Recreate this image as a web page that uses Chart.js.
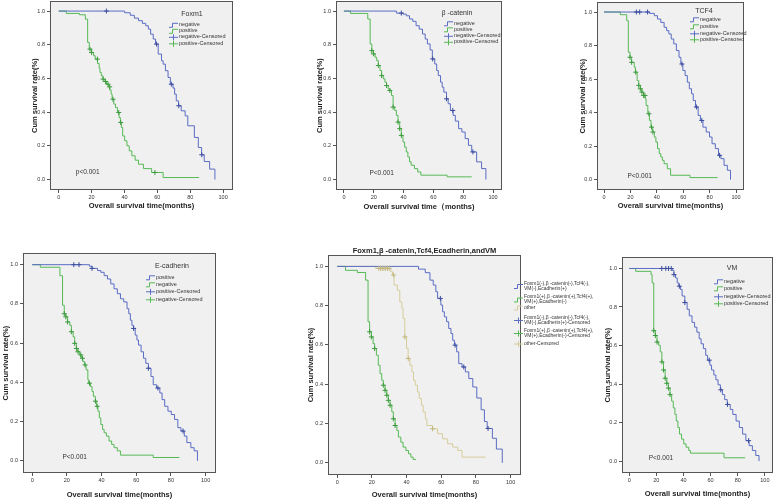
<!DOCTYPE html>
<html>
<head>
<meta charset="utf-8">
<script src="https://cdn.jsdelivr.net/npm/chart.js@4.4.1/dist/chart.umd.min.js"></script>
<style>
  html, body { margin:0; padding:0; background:#fff; }
  body { width:778px; height:499px; overflow:hidden; position:relative; }
  canvas { position:absolute; }
</style>
</head>
<body>
<script>
const FONT = '"Liberation Sans", Arial, sans-serif';
const BLUE = '#5a6cc4', BLUE_MARK = '#3c4c9e';
const GREEN = '#56b956', GREEN_MARK = '#3d9a3d';
const TAN = '#d6cc9a', TAN_MARK = '#c2b77f';
const PLOT_BG = '#f0f0f0';

const X_TICKS = [0, 20, 40, 60, 80, 100];
const Y_TICKS = [0, 0.2, 0.4, 0.6, 0.8, 1.0];
const Y_TITLE = 'Cum survival rate(%)';
const X_TITLE = 'Overall survival time(months)';
const X_TITLE_WIDE = 'Overall survival time（months)';

// Foxm1
const foxNegT = [0,40.1,43.5,46,48.5,50.9,52.9,54.5,55.9,57.5,58.9,60.5,62.5,63.5,64.9,66.5,67.9,69.5,70.5,71.5,72.9,74.5,76.9,78.5,82.5,84.9,86.9,88.5,91.8,95];
const foxNegS = [1,0.99,0.975,0.958,0.943,0.927,0.913,0.893,0.863,0.834,0.804,0.745,0.705,0.685,0.646,0.606,0.566,0.543,0.507,0.467,0.438,0.408,0.378,0.319,0.25,0.19,0.147,0.107,0.062,0];
const foxNegCens = [29,59.5,68.5,73,87];
const foxPosT = [0,4.6,12.6,16.2,17.6,18.6,20,21.2,22.2,23.6,24.6,25.1,25.9,26.9,28.1,29.1,30.5,31.1,31.9,32.5,33.5,34.5,35.7,36.7,37.5,38.1,38.9,40.1,41.5,42.9,44.5,46.5,48.5,51.5,56.5,63.5,85.4];
const foxPosS = [1,0.986,0.978,0.952,0.814,0.774,0.754,0.735,0.715,0.689,0.661,0.636,0.616,0.596,0.582,0.566,0.55,0.531,0.507,0.477,0.448,0.428,0.398,0.368,0.339,0.309,0.259,0.23,0.2,0.17,0.141,0.115,0.091,0.065,0.042,0.012,0.012];
const foxPosCens = [19,20,23.5,27,28.5,30,31,33,36.5,37.7,58.5];

// beta-catenin
const catNegT = [0,35.2,39.6,41.8,44,46.2,48.4,50.5,52.7,54.5,56,57.8,59.3,60.9,62.2,63.3,64.8,65.9,67,68.8,69.9,71.4,73.2,74.7,76.9,79.1,81.3,83.5,85.7,89,92.3,95.2];
const catNegS = [1,0.988,0.982,0.972,0.953,0.939,0.913,0.893,0.864,0.834,0.805,0.769,0.716,0.686,0.647,0.617,0.578,0.548,0.519,0.479,0.45,0.41,0.381,0.347,0.302,0.282,0.243,0.203,0.164,0.105,0.065,0];
const catNegCens = [38.5,59.5,68.8,73,86.5];
const catPosT = [0,4.4,16,17.6,18.7,19.8,20.9,22,23.1,24.2,25.3,26.4,27.5,28.6,29.7,30.8,31.9,33,34.1,35.2,36.3,37.4,38.5,39.6,40.7,41.8,42.9,44,45.1,47.3,49.5,51.6,69.2,85.7];
const catPosS = [1,0.986,0.953,0.805,0.765,0.746,0.726,0.706,0.677,0.647,0.617,0.598,0.578,0.558,0.538,0.529,0.499,0.43,0.41,0.381,0.341,0.302,0.262,0.223,0.193,0.164,0.134,0.105,0.085,0.065,0.045,0.026,0.016,0.016];
const catPosCens = [18.7,19.8,23.1,25.3,28.6,30.8,33,36.3,37.4,38.5];

// TCF4
const tcfNegT = [0,34.4,38.1,40.5,43,45.5,47.4,49.1,50.9,52.8,54.8,56.8,58.2,59.7,61.4,63.1,64.6,66.3,67.6,69.3,71.3,73,74.9,77.4,79.9,81.8,84.3,86.7,88.5,90.9,93.4,95.8];
const tcfNegS = [1,0.992,0.978,0.958,0.938,0.909,0.889,0.869,0.839,0.81,0.77,0.73,0.69,0.651,0.621,0.581,0.542,0.512,0.472,0.433,0.383,0.353,0.313,0.284,0.254,0.214,0.185,0.145,0.125,0.085,0.056,0];
const tcfNegCens = [24.5,27,33,59,70,74,87.5];
const tcfPosT = [0,12.3,17.2,18.4,19.7,20.9,22.9,23.8,25.1,26.3,27.5,28.7,30,31.2,31.9,33.2,34.4,35.6,36.9,38.1,39.3,40.5,41.8,43,44.2,45.5,47.9,50.4,65.1,86];
const tcfPosS = [1,0.984,0.948,0.76,0.73,0.7,0.671,0.641,0.591,0.562,0.542,0.522,0.502,0.482,0.442,0.393,0.353,0.313,0.284,0.254,0.224,0.185,0.155,0.135,0.115,0.095,0.065,0.026,0.012,0.012];
const tcfPosCens = [19.7,20.9,24,26.3,27.5,28.7,30,31,34,36,37];

// E-cadherin
const ecaPosT = [0,33,34.5,37.7,39.6,41.5,43.4,45.3,47.2,49.1,50.9,52.8,54.7,55.7,56.6,57.5,58.5,59.4,60.4,61.3,62.8,64.2,65.5,67,68.5,69.8,71.7,73.6,74.9,76.4,78.3,80.2,82.1,84,85.8,87.7,89.2,91.5,93.4,95.3];
const ecaPosS = [1,0.992,0.981,0.97,0.961,0.944,0.927,0.902,0.877,0.852,0.826,0.81,0.776,0.75,0.717,0.691,0.675,0.641,0.616,0.59,0.556,0.523,0.497,0.472,0.43,0.388,0.371,0.346,0.312,0.278,0.253,0.236,0.211,0.169,0.152,0.126,0.093,0.067,0.051,0];
const ecaPosCens = [24,27,34.5,58.5,67,72.5,87];
const ecaNegT = [0,4.7,16,17.5,18.5,19.4,20.4,21.7,22.6,23.6,24.5,25.5,26.4,27.4,28.3,29.2,30.2,31.1,32.1,32.6,33.6,34.5,35.3,36.4,37.2,37.9,38.7,39.6,40.6,41.5,42.8,44.3,45.8,47.2,49.1,50.9,69.8,84.9];
const ecaNegS = [1,0.987,0.944,0.793,0.75,0.734,0.708,0.691,0.658,0.632,0.599,0.573,0.556,0.54,0.523,0.506,0.489,0.464,0.413,0.396,0.379,0.354,0.329,0.304,0.278,0.253,0.219,0.185,0.16,0.143,0.126,0.101,0.084,0.067,0.051,0.029,0.017,0.017];
const ecaNegCens = [18.5,19.4,20.4,22.6,24.5,25.5,26.4,28,29,30.5,33,36.5,37.5];

// combined groups
const allNegT = [0,46.9,50.8,53.5,55.4,56.9,57.9,59.8,60.8,61.8,63.1,64.3,65.6,66.6,67.6,68.9,70.1,72,73.9,75.9,78.2,80.5,83,84.9,86.5,89.5,91.8,95.2];
const allNegS = [1,0.986,0.968,0.93,0.905,0.871,0.837,0.803,0.769,0.743,0.718,0.684,0.658,0.624,0.599,0.565,0.505,0.488,0.463,0.429,0.386,0.33,0.27,0.21,0.175,0.125,0.07,0];
const allNegCens = [59.5,68,73,87];
const allPosT = [0,4.8,11.6,16.4,17.8,18.7,19.7,20.7,21.6,22.6,23.7,24.7,25.7,26.6,27.6,28.6,29.5,30.5,31.5,32.4,33.4,34.4,35.3,36.7,38,39.6,41.1,42.5,43.8,45.4];
const allPosS = [1,0.98,0.969,0.93,0.718,0.667,0.641,0.607,0.582,0.548,0.497,0.454,0.42,0.395,0.369,0.344,0.318,0.293,0.259,0.224,0.19,0.165,0.131,0.105,0.08,0.063,0.046,0.029,0.017,0.017];
const allPosCens = [18.7,19.7,21.6,26.6,27.6,28.6,29.5,30.5,32.4,33.4];
const otherT = [0,22.2,30.9,31.9,32.8,34.7,36.1,37.3,38,39,40,40.9,41.9,43.1,44,45,46.3,47.3,48.6,49.6,50.8,51.7,55,57.9,60.8,63.7,66.6,69.5,72,85.5];
const otherS = [1,0.99,0.973,0.956,0.905,0.879,0.82,0.786,0.735,0.641,0.582,0.531,0.497,0.463,0.42,0.395,0.361,0.327,0.293,0.259,0.224,0.19,0.173,0.148,0.122,0.097,0.08,0.063,0.029,0.029];
const otherCens = [24,25,26,27,28,29,30,32.5,39,41,55];

// VM
const vmNegT = [0,31.8,33,34.2,35.4,36.6,37.8,39,41,42.7,44.3,46.3,48.2,49.9,51.6,53,54.7,56.4,57.8,59.5,60.7,62.4,63.9,65.5,67.2,68.7,70.4,72.3,74.5,76.4,78.8,81.2,83.6,86,88.4,90.8,93.3,95.7];
const vmNegS = [1,0.99,0.968,0.951,0.925,0.908,0.891,0.857,0.823,0.788,0.754,0.72,0.695,0.669,0.635,0.609,0.584,0.549,0.524,0.498,0.473,0.447,0.422,0.396,0.37,0.345,0.319,0.294,0.268,0.242,0.208,0.174,0.14,0.106,0.08,0.055,0.029,0];
const vmNegCens = [24,27,29,31,33,37,41,59,67.5,72.5,88];
const vmPosT = [0,4.8,16.1,16.9,18.1,19.3,20.5,21.7,22.9,24.1,25.3,26.5,27.7,28.9,30.1,31.3,32.5,33.7,34.7,35.9,37.1,38.6,40.2,41.9,43.9,45.1,69.9,85.5];
const vmPosS = [1,0.985,0.968,0.925,0.677,0.652,0.618,0.601,0.567,0.515,0.473,0.43,0.404,0.379,0.345,0.311,0.276,0.242,0.208,0.174,0.14,0.114,0.089,0.072,0.055,0.041,0.017,0.017];
const vmPosCens = [18.1,19.3,20.5,24.1,25.3,26.5,27.7,28.9,30.1];

function survAt(t, times, surv) {
  let s = surv[0];
  for (let i = 0; i < times.length; i++) {
    if (times[i] <= t) s = surv[i]; else break;
  }
  return s;
}

function curve(t, s, cens, color, mark) { return { t, s, cens, color, mark }; }

const twoLegend = (a, b) => [
  { lines:[a], color:BLUE, cens:false },
  { lines:[b], color:GREEN, cens:false },
  { lines:[a + '-Censored'], color:BLUE, cens:true },
  { lines:[b + '-Censored'], color:GREEN, cens:true }
];

const PANELS = [
  { box:[50,1,237,190], yW:20, xH:20, padTop:5, padRight:1, xTitle:X_TITLE,
    curves:[curve(foxNegT,foxNegS,foxNegCens,BLUE,BLUE_MARK), curve(foxPosT,foxPosS,foxPosCens,GREEN,GREEN_MARK)],
    legend:{ title:'Foxm1', tx:-41, ty:13, gx:-64, rows:[23.5,29.5,35.5,42], items:twoLegend('negative','positive') },
    p:{ text:'p<0.001', x:17.6, y:0.026 } },
  { box:[336,1,506,190], yW:21, xH:21, padTop:5, padRight:1, xTitle:X_TITLE_WIDE,
    curves:[curve(catNegT,catNegS,catNegCens,BLUE,BLUE_MARK), curve(catPosT,catPosS,catPosCens,GREEN,GREEN_MARK)],
    legend:{ title:'β -catenin', tx:-45, ty:12, gx:-58, rows:[22,28,34.5,40.5], items:twoLegend('negative','positive') },
    p:{ text:'P<0.001', x:25.3, y:0.02 } },
  { box:[597,2,748,190], yW:19, xH:20, padTop:5, padRight:1, xTitle:X_TITLE,
    curves:[curve(tcfNegT,tcfNegS,tcfNegCens,BLUE,BLUE_MARK), curve(tcfPosT,tcfPosS,tcfPosCens,GREEN,GREEN_MARK)],
    legend:{ title:'TCF4', tx:-40, ty:9, gx:-54, rows:[17,24,31,37], items:twoLegend('negative','positive') },
    p:{ text:'P<0.001', x:27, y:0 } },
  { box:[23,253,220,473], yW:22, xH:26, padTop:5, padRight:1, xTitle:X_TITLE,
    curves:[curve(ecaPosT,ecaPosS,ecaPosCens,BLUE,BLUE_MARK), curve(ecaNegT,ecaNegS,ecaNegCens,GREEN,GREEN_MARK)],
    legend:{ title:'E-cadherin', tx:-44, ty:13, gx:-70, rows:[24,31,38,46], items:twoLegend('positive','negative') },
    p:{ text:'P<0.001', x:24.5, y:0.004 } },
  { box:[328,255,521,475], yW:22, xH:24, padTop:10, padRight:78, xTitle:X_TITLE,
    title:'Foxm1,β -catenin,Tcf4,Ecadherin,andVM',
    curves:[curve(allNegT,allNegS,allNegCens,BLUE,BLUE_MARK), curve(allPosT,allPosS,allPosCens,GREEN,GREEN_MARK), curve(otherT,otherS,otherCens,TAN,TAN_MARK)],
    legend:{ gx:-7, small:true, rows:[28.5,42,52.5,62.5,75.5,88.5], items:[
      { lines:['Foxm1(-),β -catenin(-),Tcf4(-),','VM(-),Ecadherin(+)'], color:BLUE, cens:false },
      { lines:['Foxm1(+),β -catenin(+),Tcf4(+),','VM(+),Ecadherin(-)'], color:GREEN, cens:false },
      { lines:['other'], color:TAN, cens:false },
      { lines:['Foxm1(-),β -catenin(-),Tcf4(-),','VM(-),Ecadherin(+)-Censored'], color:BLUE, cens:true },
      { lines:['Foxm1(+),β -catenin(+),Tcf4(+),','VM(+),Ecadherin(-)-Censored'], color:GREEN, cens:true },
      { lines:['other-Censored'], color:TAN, cens:true }
    ] } },
  { box:[622,257,777,473], yW:19, xH:25, padTop:5, padRight:1, xTitle:X_TITLE,
    curves:[curve(vmNegT,vmNegS,vmNegCens,BLUE,BLUE_MARK), curve(vmPosT,vmPosS,vmPosCens,GREEN,GREEN_MARK)],
    legend:{ title:'VM', tx:-41, ty:11, gx:-59, rows:[24,31,39,46], items:twoLegend('negative','positive') },
    p:{ text:'P<0.001', x:23.4, y:0 } }
];

function drawGlyph(ctx, x0, y, color, cens) {
  ctx.save();
  ctx.strokeStyle = color;
  ctx.lineWidth = 1;
  ctx.beginPath();
  if (cens) {
    ctx.moveTo(x0, y + 0.5); ctx.lineTo(x0 + 9, y + 0.5);
    ctx.moveTo(x0 + 4.5, y - 2.5); ctx.lineTo(x0 + 4.5, y + 3.5);
  } else {
    ctx.moveTo(x0, y + 2.5); ctx.lineTo(x0 + 3.5, y + 2.5);
    ctx.lineTo(x0 + 3.5, y - 1.5); ctx.lineTo(x0 + 9, y - 1.5);
  }
  ctx.stroke();
  ctx.restore();
}

const decor = {
  id: 'decor',
  beforeDraw(chart) {
    const { ctx, chartArea: a } = chart;
    ctx.save();
    ctx.fillStyle = PLOT_BG;
    ctx.fillRect(a.left, a.top, a.width, a.height);
    ctx.restore();
  },
  afterDraw(chart) {
    const cfg = chart.options.plugins.decor;
    const { ctx, chartArea: a } = chart;
    ctx.save();
    ctx.strokeStyle = '#555';
    ctx.lineWidth = 1;
    ctx.strokeRect(Math.round(a.left) + 0.5, Math.round(a.top) + 0.5, Math.round(a.width) - 1, Math.round(a.height) - 1);

    if (cfg.title) {
      ctx.fillStyle = '#222';
      ctx.font = 'bold 7.5px ' + FONT;
      ctx.textAlign = 'center';
      ctx.textBaseline = 'middle';
      ctx.fillText(cfg.title, (a.left + a.right) / 2, a.top - 4.5);
    }

    const L = cfg.legend;
    ctx.fillStyle = '#333';
    ctx.textBaseline = 'middle';
    if (L.title) {
      ctx.font = '7px ' + FONT;
      ctx.textAlign = 'center';
      ctx.fillText(L.title, a.right + L.tx, a.top + L.ty);
    }
    ctx.textAlign = 'left';
    ctx.font = (L.small ? '5px ' : '5.5px ') + FONT;
    L.items.forEach((it, i) => {
      const y = a.top + L.rows[i];
      const x0 = a.right + L.gx;
      const gy = it.lines.length > 1 ? y + 2.5 : y;
      drawGlyph(ctx, x0, gy, it.color, it.cens);
      ctx.fillStyle = '#333';
      it.lines.forEach((ln, j) => ctx.fillText(ln, x0 + 10, y + j * 5));
    });

    if (cfg.p) {
      const xs = chart.scales.x, ys = chart.scales.y;
      ctx.font = '6.5px ' + FONT;
      ctx.textAlign = 'center';
      ctx.fillStyle = '#333';
      ctx.fillText(cfg.p.text, xs.getPixelForValue(cfg.p.x), ys.getPixelForValue(cfg.p.y) - 3);
    }
    ctx.restore();
  }
};

function makePanel(p) {
  const [bl, bt, br, bb] = p.box;
  const left = bl - p.yW, top = bt - p.padTop;
  const width = p.yW + (br - bl) + p.padRight;
  const height = p.padTop + (bb - bt) + p.xH;
  const canvas = document.createElement('canvas');
  canvas.width = width; canvas.height = height;
  canvas.style.left = left + 'px'; canvas.style.top = top + 'px';
  canvas.style.width = width + 'px'; canvas.style.height = height + 'px';
  document.body.appendChild(canvas);

  const datasets = [];
  p.curves.forEach(c => datasets.push({
    data: c.t.map((x, i) => ({ x, y: c.s[i] })),
    borderColor: c.color, borderWidth: 1, stepped: 'before',
    pointRadius: 0, fill: false, order: 2
  }));
  p.curves.forEach(c => datasets.push({
    data: c.cens.map(x => ({ x, y: survAt(x, c.t, c.s) })),
    showLine: false, pointStyle: 'cross', pointRadius: 2.5,
    borderColor: c.mark, borderWidth: 1, order: 1
  }));

  const tickFont = { size: 5.5, family: FONT };
  const titleFont = { size: 7.5, weight: 'bold', family: FONT };

  new Chart(canvas, {
    type: 'line',
    data: { datasets },
    options: {
      responsive: false,
      animation: false,
      events: [],
      layout: { padding: { top: p.padTop, right: p.padRight, left: 0, bottom: 0 } },
      plugins: {
        legend: { display: false },
        tooltip: { enabled: false },
        decor: { title: p.title, legend: p.legend, p: p.p }
      },
      scales: {
        x: {
          type: 'linear', min: -5.3, max: 106,
          afterBuildTicks: s => { s.ticks = X_TICKS.map(v => ({ value: v })); },
          afterFit: s => { s.height = p.xH; },
          ticks: { font: tickFont, color: '#333', padding: 1, maxRotation: 0, autoSkip: false },
          grid: { drawOnChartArea: false, tickLength: 3, color: '#555' },
          border: { display: false },
          title: { display: true, text: p.xTitle, font: titleFont, color: '#222', padding: 0 }
        },
        y: {
          type: 'linear', min: -0.062, max: 1.058,
          afterBuildTicks: s => { s.ticks = Y_TICKS.map(v => ({ value: v })); },
          afterFit: s => { s.width = p.yW; },
          ticks: { font: tickFont, color: '#333', padding: 2, callback: v => v.toFixed(1) },
          grid: { drawOnChartArea: false, tickLength: 3, color: '#555' },
          border: { display: false },
          title: { display: true, text: Y_TITLE, font: titleFont, color: '#222', padding: 0 }
        }
      }
    },
    plugins: [decor]
  });
}

PANELS.forEach(makePanel);
</script>
</body>
</html>
